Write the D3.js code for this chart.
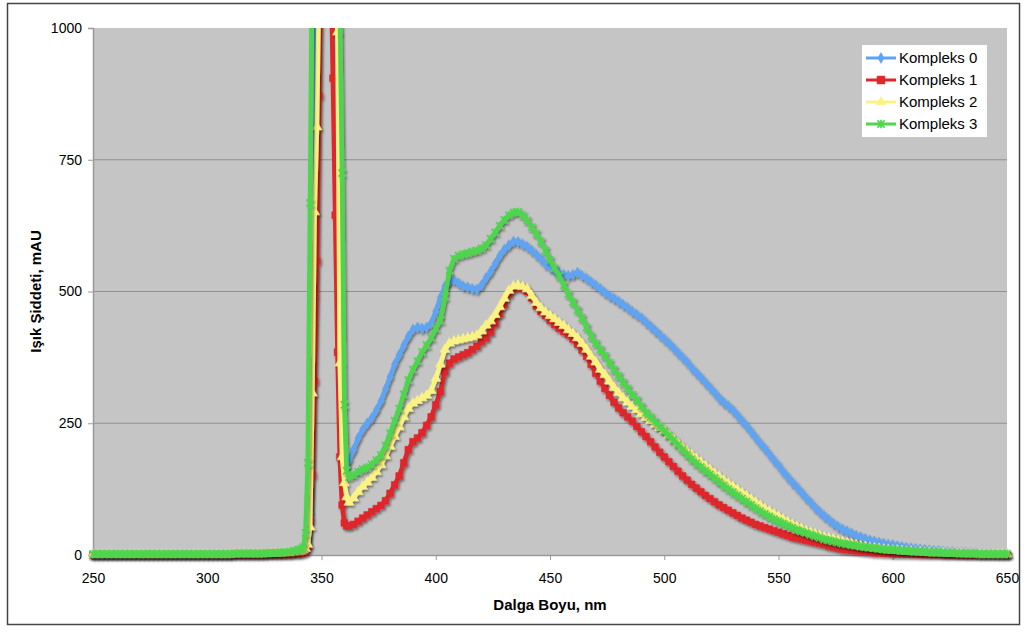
<!DOCTYPE html>
<html><head><meta charset="utf-8">
<script src="https://cdn.jsdelivr.net/npm/d3@7"></script>
<style>
body{margin:0;background:#fff}
svg{display:block}
text{font-family:"Liberation Sans",Arial,sans-serif;fill:#000}
</style>
</head><body>
<svg id="chart" width="1027" height="634"></svg>
<script>
// x categories (nm): 2 nm steps, 1 nm steps across the narrow excitation peak
const wavelengths = [].concat(d3.range(250, 341, 2), d3.range(341, 362, 1), d3.range(362, 651, 2));

const seriesNames = ["Kompleks 0", "Kompleks 1", "Kompleks 2", "Kompleks 3"];

const kompleks0 = [
  1,1,1,1,1,1,1,1,1,1, 1,1,1,1,1,1,1,1,1,1, 1,1,1,1,1,1,
  1,1,1,1,1,2,2,2,2,2,2,2,2,3,3, 3,4,4,5,6,
  8,10,14,22,80,366,490,1150,1500,1700,1800,1800,1700,1500,1250,987,655,351,231,180,168,
  180,200,222,238,250,260,275,292,315,338,
  362,380,398,415,428,432,430,432,440,462,
  488,510,520,521,516,510,508,505,504,512,
  526,538,553,568,580,588,595,594,590,585,
  578,570,562,552,546,540,535,532,530,532,
  536,530,525,518,512,505,498,492,487,481,
  475,469,462,456,450,442,434,426,418,410,
  402,393,384,375,366,355,346,337,327,318,
  308,298,290,283,275,265,255,245,234,223,
  212,202,191,180,170,158,148,138,129,119,
  109,100,90,82,74,67,60,54,49,45,
  41,37,34,31,28,26,24,22,20,19,
  17,16,14,13,12,11,10,9,8,8,
  7,6,6,5,5,4,4,4,3,3,
  3,3,2,2,2
];
const kompleks1 = [
  0.5,0.5,0.5,0.5,0.5,0.5,0.5,0.5,0.5,0.5, 0.5,0.5,0.5,0.5,0.5,0.5,0.5,0.5,0.5,0.5, 0.5,0.5,0.5,0.5,0.5,0.5,
  0.5,0.5,0.5,0.5,0.5,0.5,0.5,0.5,0.5,0.5,0.5,0.5,1,1,1, 1,1,1,2,2,
  3,4,6,15,66,152,330,558,871,1200,1400,1450,1350,1150,905,645,385,186,95,61,55,
  55,58,64,70,76,82,88,94,103,117,
  133,150,175,200,215,222,232,246,262,285,
  310,348,364,372,376,380,384,390,396,405,
  412,423,440,458,476,495,505,509,506,500,
  488,472,462,454,445,437,430,424,418,410,
  400,389,377,362,345,330,316,303,290,279,
  270,262,254,244,234,225,215,205,195,186,
  177,168,159,150,142,134,127,120,113,107,
  101,95,90,85,80,75,70,66,62,58,
  55,52,49,46,43,40,37,34,32,30,
  28,26,24,22,20,17,15,13,11,10,
  9,8,7,6,5,4,4,3,3,2,
  2,2,2,1.5,1.5,1,1,1,1,1,
  0.5,0.5,0.5,0.5,0.5,0.5,0.5,0.5,0.5,0.5,
  0.5,0.5,0.5,0.5,0.5
];
const kompleks2 = [
  1,1,1,1,1,1,1,1,1,1, 1,1,1,1,1,1,1,1,1,1, 1,1,1,1,1,1,
  1,1,1,1,1,2,2,2,2,2,2,2,2,3,3, 3,4,4,5,6,
  7,9,12,20,53,307,651,812,1100,1400,1600,1700,1700,1600,1400,1200,992,364,186,137,110,
  100,108,120,130,138,147,158,171,188,206,
  225,243,262,278,288,293,298,303,312,335,
  362,390,402,406,408,410,412,414,417,425,
  436,444,456,471,487,502,510,512,509,505,
  492,479,469,461,454,448,441,435,427,420,
  412,401,390,377,366,352,342,330,318,308,
  298,290,282,276,268,261,255,248,242,236,
  228,220,212,204,197,190,183,176,169,162,
  155,149,142,136,130,124,118,112,106,100,
  94,88,83,78,73,68,63,58,54,50,
  46,43,40,37,34,32,30,27,25,23,
  21,19,17,16,14,13,12,11,10,9,
  9,8,7,7,6,6,5,5,4,4,
  4,3,3,3,3,2,2,2,2,2,
  2,2,2,2,2
];
const kompleks3 = [
  2,2,2,2,2,2,2,2,2,2, 2,2,2,2,2,2,2,2,2,2, 2,2,2,2,2,2,
  2,2,2,2,2,3,3,3,3,3,3,3,4,4,4, 5,5,6,8,10,
  12,15,42,175,668,1200,1500,1700,1800,1900,1900,1900,1800,1700,1500,1300,1150,1050,725,285,160,
  148,152,158,163,166,172,180,190,208,231,
  255,278,305,332,352,368,385,398,412,430,
  445,490,540,562,568,571,573,576,578,582,
  588,600,612,625,636,645,650,651,645,635,
  622,610,595,578,560,544,530,512,495,480,
  465,450,432,415,402,390,378,365,352,340,
  328,316,304,294,282,270,262,253,244,236,
  227,218,209,200,191,182,174,167,160,153,
  146,139,132,125,119,113,107,101,95,89,
  83,78,73,68,64,60,56,52,48,45,
  42,39,36,33,30,28,26,24,22,21,
  19,18,16,15,14,13,12,11,10,10,
  9,8,8,7,7,6,6,5,5,5,
  4,4,4,3,3,3,3,3,2,2,
  2,2,2,2,2
];

const xTicks = [250, 300, 350, 400, 450, 500, 550, 600, 650];
const yTicks = [0, 250, 500, 750, 1000];
const gridValues = [250, 500, 750];
const xTitle = "Dalga Boyu, nm";
const yTitle = "Işık Şiddeti, mAU";

const allSeries = [kompleks0, kompleks1, kompleks2, kompleks3];
const colors = ["#5fa3f1", "#df262b", "#faf383", "#4ed64e"];
const markerTypes = ["diamond", "square", "triangle", "star"];

const svg = d3.select("#chart");
const W = 1027, H = 634;
const mLeft = 93, mRight = 1007, mTop = 28, mBottom = 555;

const x = d3.scaleLinear().domain([250, 650]).range([mLeft, mRight]);
const y = d3.scaleLinear().domain([0, 1000]).range([mBottom, mTop]);

const defs = svg.append("defs");
defs.append("clipPath").attr("id", "clip")
  .append("rect").attr("x", 0).attr("y", mTop).attr("width", W).attr("height", H - mTop);
const f = defs.append("filter").attr("id", "shadow")
  .attr("x", "-10%").attr("y", "-10%").attr("width", "130%").attr("height", "130%");
f.append("feDropShadow").attr("dx", 1.5).attr("dy", 2).attr("stdDeviation", 1)
  .attr("flood-color", "#000").attr("flood-opacity", 0.45);

// background + outer border
svg.append("rect").attr("x", 0).attr("y", 0).attr("width", W).attr("height", H).attr("fill", "#fff");
svg.append("rect").attr("x", 7.5).attr("y", 3.5).attr("width", 1012).attr("height", 621)
  .attr("fill", "none").attr("stroke", "#444").attr("stroke-width", 1.5);

// plot area
svg.append("rect").attr("x", mLeft).attr("y", mTop).attr("width", mRight - mLeft).attr("height", mBottom - mTop)
  .attr("fill", "#c5c5c5");

svg.append("g").selectAll("line").data(gridValues).join("line")
  .attr("x1", mLeft).attr("x2", mRight)
  .attr("y1", d => y(d)).attr("y2", d => y(d))
  .attr("stroke", "#919191").attr("stroke-width", 1);

// axes
const yAxis = svg.append("g").attr("transform", `translate(${mLeft},0)`)
  .call(d3.axisLeft(y).tickValues(yTicks).tickSize(5).tickPadding(6).tickFormat(d3.format("d")));
const xAxis = svg.append("g").attr("transform", `translate(0,${mBottom})`)
  .call(d3.axisBottom(x).tickValues(xTicks).tickSize(5).tickPadding(13).tickFormat(d3.format("d")));
[yAxis, xAxis].forEach(g => {
  g.select(".domain").attr("stroke", "#9a9a9a").attr("stroke-width", 1.5);
  g.selectAll(".tick line").attr("stroke", "#9a9a9a");
  g.selectAll("text").attr("font-size", 14).attr("fill", "#000")
    .attr("font-family", '"Liberation Sans", Arial, sans-serif');
});

// axis titles
svg.append("text").attr("x", (mLeft + mRight) / 2).attr("y", 610)
  .attr("text-anchor", "middle").attr("font-size", 15).attr("font-weight", "bold").text(xTitle);
svg.append("text").attr("transform", `translate(41,${(mTop + mBottom) / 2}) rotate(-90)`)
  .attr("text-anchor", "middle").attr("font-size", 15).attr("font-weight", "bold").text(yTitle);

// marker shapes
function markerPath(type, big) {
  const k = big ? 1.35 : 1;
  if (type === "diamond") return d3.symbol(d3.symbolDiamond, 34 * k)();
  if (type === "square") return d3.symbol(d3.symbolSquare, 46 * k)();
  if (type === "triangle") return d3.symbol(d3.symbolTriangle, 42 * k)();
  return "M-3.6,-3.6L3.6,3.6M-3.6,3.6L3.6,-3.6M0,-4.2L0,4.2";
}
function drawMarker(g, type, color, big) {
  const p = g.append("path").attr("d", markerPath(type, big));
  if (type === "star") p.attr("fill", "none").attr("stroke", color).attr("stroke-width", 1.7);
  else p.attr("fill", color).attr("stroke", color).attr("stroke-width", 0.5);
  return p;
}

// series
const plotG = svg.append("g").attr("clip-path", "url(#clip)");
const line = d3.line().x(d => x(d[0])).y(d => y(d[1]));
allSeries.forEach((vals, i) => {
  const pts = wavelengths.map((w, k) => [w, vals[k]]);
  const g = plotG.append("g").attr("filter", "url(#shadow)");
  g.append("path").datum(pts).attr("d", line)
    .attr("fill", "none").attr("stroke", colors[i]).attr("stroke-width", 4.6)
    .attr("stroke-linejoin", "round");
  pts.forEach(p => {
    drawMarker(g, markerTypes[i], colors[i], false)
      .attr("transform", `translate(${x(p[0])},${y(p[1])})`);
  });
});

// legend
const lg = svg.append("g");
lg.append("rect").attr("x", 862).attr("y", 45).attr("width", 125).attr("height", 92).attr("fill", "#fff");
seriesNames.forEach((name, i) => {
  const yy = 58 + i * 22;
  lg.append("line").attr("x1", 866).attr("x2", 896).attr("y1", yy).attr("y2", yy)
    .attr("stroke", colors[i]).attr("stroke-width", 3);
  drawMarker(lg, markerTypes[i], colors[i], i === 1).attr("transform", `translate(881,${yy})`);
  lg.append("text").attr("x", 899).attr("y", yy + 5).attr("font-size", 15).text(name);
});
</script>
</body></html>
